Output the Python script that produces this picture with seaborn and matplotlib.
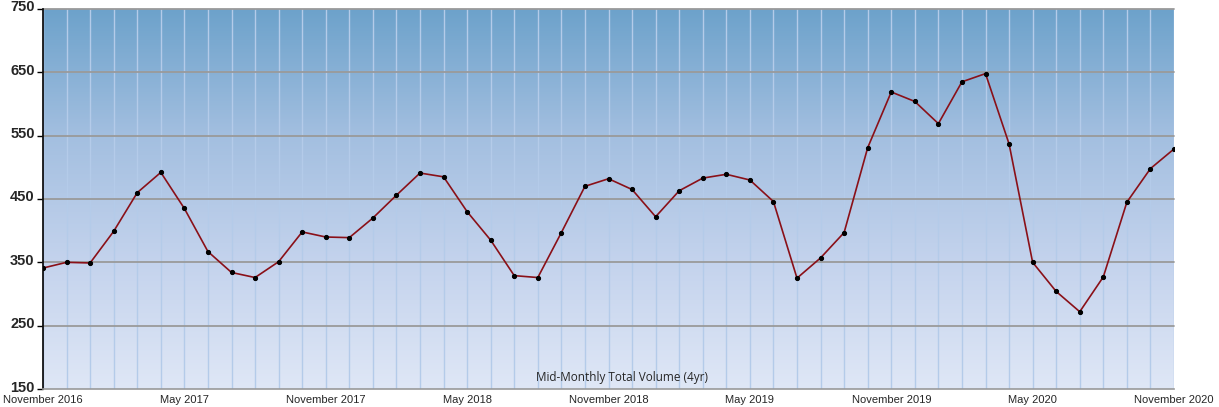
import numpy as np
import pandas as pd
import matplotlib
matplotlib.use('Agg')
import matplotlib.pyplot as plt
import matplotlib.transforms as mtransforms
import seaborn as sns
from matplotlib.colors import LinearSegmentedColormap

# Monatswerte Nov 2016 - Nov 2020
volume = [341, 350, 349, 399, 460, 492, 435, 367, 334, 326, 351, 398,
          390, 389, 420, 456, 491, 485, 430, 385, 329, 326, 397, 470,
          482, 465, 422, 463, 483, 489, 480, 446, 325, 357, 397, 531,
          619, 604, 569, 635, 648, 537, 350, 304, 272, 327, 445, 498, 529]
tick_labels = ['November 2016', 'May 2017', 'November 2017', 'May 2018',
               'November 2018', 'May 2019', 'November 2019', 'May 2020',
               'November 2020']
y_ticks = [150, 250, 350, 450, 550, 650, 750]

df = pd.DataFrame({'idx': np.arange(len(volume)), 'volume': volume})

sns.set_style('white')
plt.rcParams['font.family'] = ['Liberation Sans', 'DejaVu Sans']

fig = plt.figure(figsize=(12.19, 4.07), dpi=100)
ax = fig.add_axes([43 / 1219, 1 - 389 / 407, (1174 - 43) / 1219, (389 - 9) / 407])

# Hintergrund-Verlauf
cmap = LinearSegmentedColormap.from_list('bg', ['#dfe7f6', '#c4d3ed', '#a3bfe0', '#6da2cb'])
grad = np.linspace(0, 1, 256).reshape(-1, 1)
ax.imshow(grad, cmap=cmap, aspect='auto', origin='lower',
          extent=[0, len(volume) - 1, 150, 750], zorder=0)

# Monatslinien
for i in range(len(volume)):
    ax.axvline(i, color='#b4cbe9', lw=1.0, zorder=1)
# horizontale Gitterlinien
for v in y_ticks[1:]:
    ax.axhline(v, color='#9a9a9a', lw=1.3, zorder=2, clip_on=False)

sns.lineplot(data=df, x='idx', y='volume', ax=ax, color='#8a1018', lw=1.2,
             marker='o', markersize=3, markerfacecolor='black',
             markeredgecolor='black', zorder=3)

ax.set_xlim(0, len(volume) - 1)
ax.set_ylim(150, 750)
ax.set_yticks(y_ticks)
ax.set_yticklabels([str(v) for v in y_ticks], fontsize=10.5, fontweight='bold')
ax.set_xticks(np.arange(0, len(volume), 6))
ax.set_xticklabels(tick_labels, fontsize=8)
ax.tick_params(axis='x', length=0, pad=4)
ax.tick_params(axis='y', length=4, width=1, color='black', pad=2, left=True)
ax.set_xlabel('')
ax.set_ylabel('')

# Y-Beschriftungen leicht nach oben, damit "150" nicht mit "November 2016" kollidiert
shift = mtransforms.ScaledTranslation(0, 3 / 100, fig.dpi_scale_trans)
for lbl in ax.get_yticklabels():
    lbl.set_transform(lbl.get_transform() + shift)

for s in ['top', 'right']:
    ax.spines[s].set_visible(False)
ax.spines['left'].set_color('black')
ax.spines['left'].set_linewidth(1.2)
ax.spines['bottom'].set_color('#999999')
ax.spines['bottom'].set_linewidth(1.2)

fig.text(622 / 1219, 1 - 377 / 407, 'Mid-Monthly Total Volume (4yr)',
         ha='center', va='center', fontsize=8.5, family=['Open Sans', 'DejaVu Sans'])

fig.savefig('out.png', dpi=100)
